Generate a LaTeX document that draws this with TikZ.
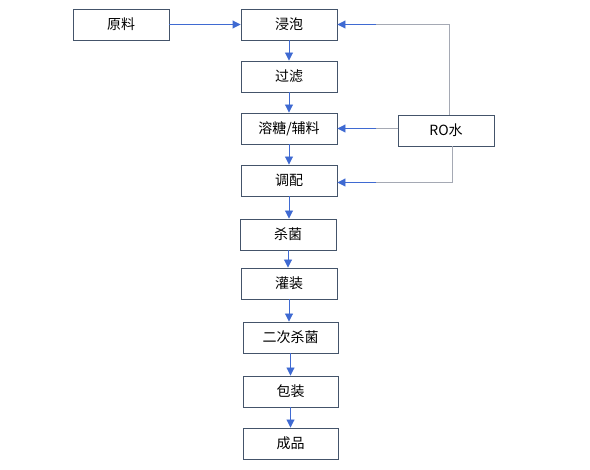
\documentclass[tikz,border=0pt]{standalone}
\usepackage{fontspec}
\setmainfont{Noto Sans CJK SC}
\usetikzlibrary{arrows.meta,calc}
\definecolor{boxline}{HTML}{44546A}
\definecolor{arrblue}{HTML}{3F6AD2}
\definecolor{linegray}{HTML}{A5A9B4}
\tikzset{
  stepbox/.style={draw=boxline, line width=0.9pt, fill=white, minimum width=96pt, minimum height=31pt, inner sep=0pt, font=\fontsize{14pt}{16pt}\selectfont},
  flow/.style={draw=arrblue, line width=0.9pt, -{Triangle[length=8pt,width=8pt,fill=arrblue]}},
  feed/.style={draw=linegray, line width=0.9pt}
}
\begin{document}
\begin{tikzpicture}[x=1pt,y=-1pt]
\useasboundingbox (0,0) rectangle (590,470);
\node[stepbox] (raw) at (121,24.5) {原料};
\node[stepbox] (soak) at (289,24.5) {浸泡};
\node[stepbox] (filt) at (289,76.5) {过滤};
\node[stepbox] (sugar) at (289,128.5) {溶糖/辅料};
\node[stepbox] (mix) at (289,180.5) {调配};
\node[stepbox] (ster) at (288,234.5) {杀菌};
\node[stepbox] (fill) at (289,283.5) {灌装};
\node[stepbox, minimum width=95pt] (ster2) at (290.5,337.5) {二次杀菌};
\node[stepbox, minimum width=95pt] (pack) at (290.5,391.5) {包装};
\node[stepbox, minimum width=95pt] (prod) at (290.5,443.5) {成品};
\node[stepbox] (ro) at (446,130.5) {RO水};
% main flow
\draw[flow] (raw.east) -- (soak.west);
\draw[flow] (soak.south) -- (soak.south |- filt.north);
\draw[flow] (filt.south) -- (filt.south |- sugar.north);
\draw[flow] (sugar.south) -- (sugar.south |- mix.north);
\draw[flow] (mix.south) -- (mix.south |- ster.north);
\draw[flow] (ster.south) -- (ster.south |- fill.north);
\draw[flow] (fill.south) -- (fill.south |- ster2.north);
\draw[flow] (ster2.south) -- (ster2.south |- pack.north);
\draw[flow] (pack.south) -- (pack.south |- prod.north);
% RO water feeds
\coordinate (c1) at (376,24.5);
\coordinate (c2) at (376,128.5);
\coordinate (c3) at (376,182.5);
\draw[feed] ($(ro.north)+(3,0)$) |- (c1);
\draw[flow] (c1) -- (soak.east);
\draw[feed] (ro.west |- c2) -- (c2);
\draw[flow] (c2) -- (sugar.east);
\draw[feed] ($(ro.south)+(6,0)$) |- (c3);
\draw[flow] (c3) -- (mix.east |- c3);
\end{tikzpicture}
\end{document}
